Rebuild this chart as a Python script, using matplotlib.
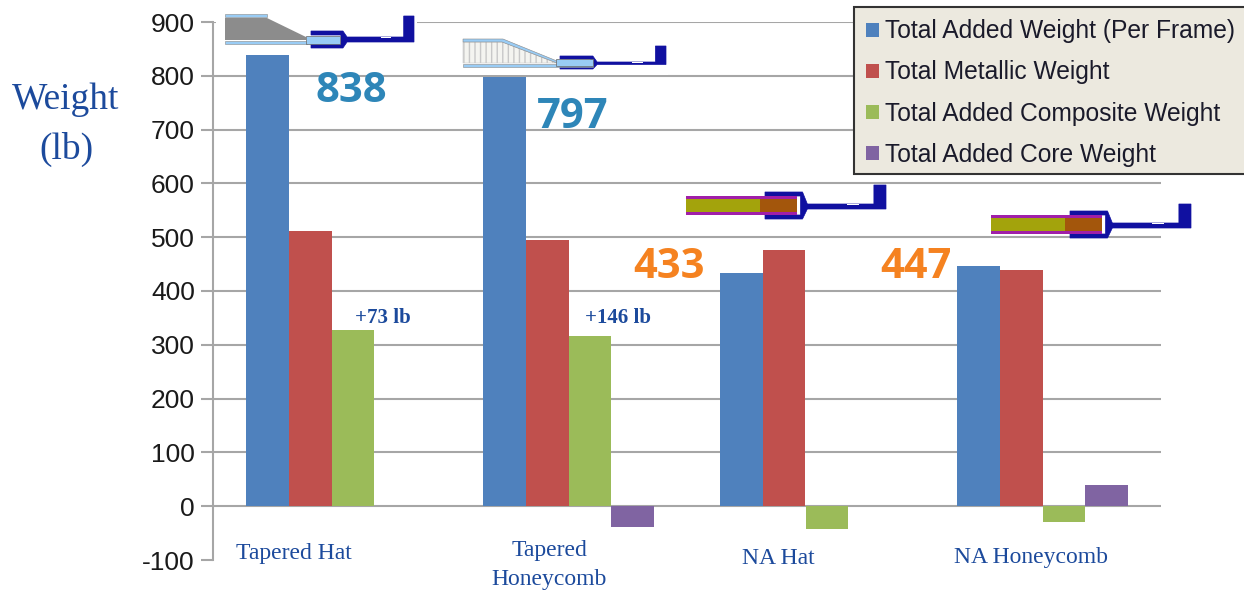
import numpy as np
import matplotlib
matplotlib.use('Agg')
import matplotlib.pyplot as plt
from matplotlib.patches import Polygon, Rectangle

W, H = 1244, 590
plt.rcParams['axes.unicode_minus'] = False

# data
categories = ['Tapered Hat', 'Tapered\nHoneycomb', 'NA Hat', 'NA Honeycomb']
total_added = [838, 797, 433, 447]
total_metallic = [512, 495, 477, 439]
added_composite = [327, 317, -42, -30]
added_core = [0, -38, 0, 40]
series_names = ['Total Added Weight (Per Frame)', 'Total Metallic Weight',
                'Total Added Composite Weight', 'Total Added Core Weight']
series_colors = ['#4F81BD', '#C0504D', '#9BBB59', '#8064A2']
total_labels = ['838', '797', '433', '447']
delta_labels = ['+73 lb', '+146 lb']
yticks = list(range(-100, 1000, 100))

SERIF = 'Liberation Serif'
SANS = 'Liberation Sans'
NAVY = '#1C4A9C'
GRID = '#A6A6A6'
FITTING = '#1010A0'


def px_axes(left, top, right, bottom):
    return [left / W, 1 - bottom / H, (right - left) / W, (bottom - top) / H]


def draw_fitting(ax, x0, x1, foot_top, arm_top, arm_bot, fl_top, fl_bot, t):
    # blue end fitting: two arms, a neck, a flange and a foot
    w = x1 - x0
    xa = x0 + 0.31 * w
    xn = x0 + 0.35 * w
    xf = x0 + 0.90 * w
    pts = [(x0, arm_top), (xa, arm_top), (xn, fl_top), (xf, fl_top), (xf, foot_top),
           (x1, foot_top), (x1, fl_bot), (xn, fl_bot), (xa, arm_bot), (x0, arm_bot),
           (x0, arm_bot - t), (xa - 2, arm_bot - t), (xa - 2, arm_top + t), (x0, arm_top + t)]
    ax.add_patch(Polygon(pts, closed=True, fc=FITTING, ec=FITTING, lw=0.5))
    ax.add_patch(Rectangle((x0 + 0.68 * w, fl_top - 0.5), 0.1 * w, 1.5, fc='white', ec='none'))


def draw_na_strip(ax, x0, xm, x1, y0, y1):
    ax.add_patch(Rectangle((x0, y0), x1 - x0, y1 - y0, fc='#A01FA8', ec='none', zorder=4))
    ax.add_patch(Rectangle((x0, y0 + 3), xm - x0, y1 - y0 - 6, fc='#A3A30C', ec='none', zorder=4))
    ax.add_patch(Rectangle((xm, y0 + 3), x1 - xm, y1 - y0 - 6, fc='#A3560C', ec='none', zorder=4))


fig = plt.figure(figsize=(W / 100, H / 100), dpi=100)
ax = fig.add_axes(px_axes(213, 22, 1161, 560))

x = np.arange(len(categories))
bar_w = 0.18
all_series = [total_added, total_metallic, added_composite, added_core]
handles = []
for i, vals in enumerate(all_series):
    bars = ax.bar(x + (i - 1.5) * bar_w, vals, bar_w, color=series_colors[i],
                  label=series_names[i], zorder=3)
    handles.append(bars)

ax.set_xlim(-0.5, 3.5)
ax.set_ylim(-100, 900)
ax.set_yticks(yticks)
ax.set_xticks([])
ax.tick_params(axis='y', length=9, width=1.5, color=GRID, pad=4)
for lab in ax.get_yticklabels():
    lab.set_fontfamily(SANS)
    lab.set_fontsize(19)
    lab.set_color('#1A1A1A')
for y in yticks[1:]:
    ax.axhline(y, color=GRID, lw=1.5, zorder=1)
for s in ['top', 'right', 'bottom']:
    ax.spines[s].set_visible(False)
ax.spines['left'].set_color(GRID)
ax.spines['left'].set_linewidth(1.5)

# overlay in pixel coordinates for the drawings and the annotations
ov = fig.add_axes([0, 0, 1, 1], zorder=5)
ov.set_xlim(0, W)
ov.set_ylim(H, 0)
ov.axis('off')

# tapered hat section
ov.add_patch(Rectangle((216, 6), 201, 44, fc='white', ec='none'))
draw_fitting(ov, 311, 414, 16, 31, 48, 37, 42, 4)
ov.add_patch(Rectangle((225, 14), 42, 3, fc='#99CCF5', ec='#888888', lw=0.4))
ov.add_patch(Polygon([(225, 18), (267, 18), (306, 37), (306, 40), (225, 40)],
                     closed=True, fc='#8C8C8C', ec='none'))
ov.add_patch(Rectangle((225, 41), 82, 3, fc='#99CCF5', ec='#888888', lw=0.4))
ov.add_patch(Rectangle((306, 36), 34, 8, fc='#99CCF5', ec='#666666', lw=0.5))

# tapered honeycomb section
ov.add_patch(Rectangle((460, 28), 208, 47, fc='white', ec='none'))
draw_fitting(ov, 560, 666, 46, 56, 69, 62, 64.5, 3)
ov.add_patch(Polygon([(463, 42), (503, 42), (556, 63), (463, 63)], closed=True,
                     fc='#F4F4F0', ec='#C8C8C8', lw=0.4, hatch='|||'))
ov.add_patch(Polygon([(463, 39), (503, 39), (557, 61), (557, 63), (502, 42), (463, 42)],
                     closed=True, fc='#99CCF5', ec='#888888', lw=0.4))
ov.add_patch(Rectangle((463, 64), 130, 3, fc='#99CCF5', ec='#888888', lw=0.4))
ov.add_patch(Rectangle((556, 59), 37, 7, fc='#99CCF5', ec='#666666', lw=0.5))

# non-tapered sections
draw_fitting(ov, 765, 886, 185, 192, 219, 204, 209, 4)
draw_na_strip(ov, 686, 760, 797, 196, 215)
draw_fitting(ov, 1070, 1191, 204, 211, 238, 223, 228, 4)
draw_na_strip(ov, 991, 1065, 1102, 215, 234)

# axis title
ov.text(66, 100, 'Weight', family=SERIF, fontsize=27, color=NAVY, ha='center', va='center')
ov.text(66, 149, '(lb)', family=SERIF, fontsize=27, color=NAVY, ha='center', va='center')

# category labels sit off the bar centres in the original
cat_x = [294, 549, 778, 1031]
cat_y = [554, 565, 559, 558]
for i, name in enumerate(categories):
    ov.text(cat_x[i], cat_y[i], name, family=SERIF, fontsize=17, color=NAVY,
            ha='center', va='center', linespacing=1.5)

# totals
total_x = [351, 573, 669, 916]
total_y = [92, 117, 268, 267]
total_colors = ['#2E86B8', '#2E86B8', '#F58220', '#F58220']
for i, t in enumerate(total_labels):
    ov.text(total_x[i], total_y[i], t, family='Open Sans', fontweight='bold', fontsize=30,
            color=total_colors[i], ha='center', va='center')

delta_x = [383, 618]
for i, t in enumerate(delta_labels):
    ov.text(delta_x[i], 318, t, family=SERIF, fontweight='bold', fontsize=15,
            color=NAVY, ha='center', va='center')

# legend box runs off the right edge of the picture
ov.add_patch(Rectangle((854, 7), 400, 167, fc='#ECE9DF', ec='#333333', lw=1.5, zorder=4.5))
ov.legend(handles=handles, labels=series_names, loc='upper left',
          bbox_to_anchor=(854 / W, 1 - 7 / H), bbox_transform=fig.transFigure,
          borderaxespad=0, frameon=False,
          prop={'family': SANS, 'size': 17.7}, labelcolor='#1A1A2A',
          handlelength=0.5, handleheight=0.5, handletextpad=0.25,
          labelspacing=0.70, borderpad=0.5)

fig.savefig('out.png', dpi=100)
